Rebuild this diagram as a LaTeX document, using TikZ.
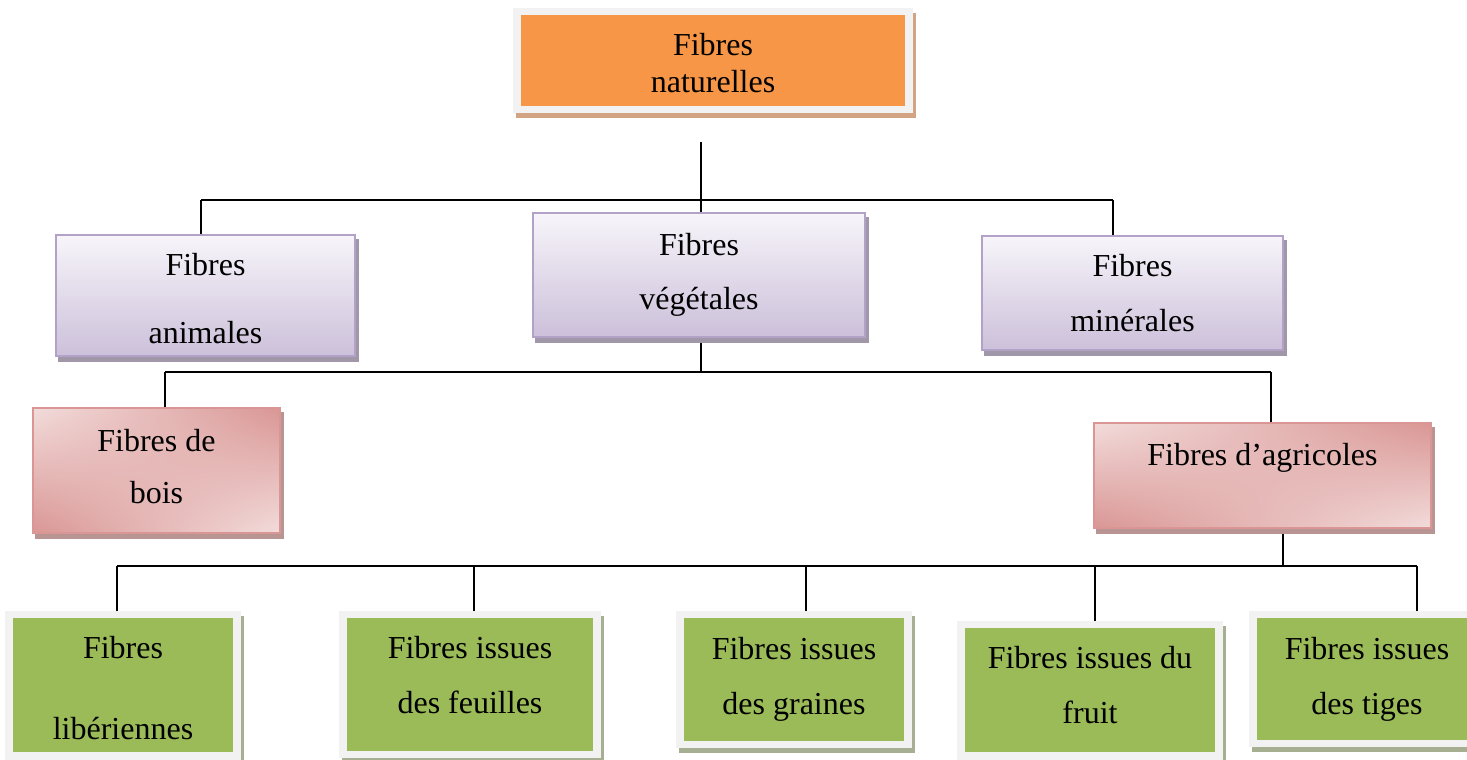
\documentclass[tikz,border=0pt]{standalone}
\usepackage{fontspec}
\setmainfont{Liberation Serif}
\usetikzlibrary{backgrounds,shadings}

\definecolor{orangefill}{HTML}{F79646}
\definecolor{orangeshadow}{HTML}{D2A483}
\definecolor{framegray}{HTML}{F2F2F2}
\definecolor{lilaline}{HTML}{B3A2C7}
\definecolor{lilatop}{HTML}{F7F5FA}
\definecolor{lilabottom}{HTML}{CCC0DA}
\definecolor{lilashadow}{HTML}{A098A8}
\definecolor{roseline}{HTML}{D99694}
\definecolor{roselight}{HTML}{F2DCDB}
\definecolor{rosedark}{HTML}{D99694}
\definecolor{roseshadow}{HTML}{B89493}
\definecolor{greenfill}{HTML}{9BBB59}
\definecolor{greenshadow}{HTML}{A7AF92}

\begin{document}
\begin{tikzpicture}[x=1pt,y=-1pt,
	every node/.style={align=center,inner sep=0pt,font=\fontsize{32}{55}\selectfont},
	lsp/.style={font=\fontsize{32}{#1}\selectfont},
	linie/.style={line width=1.5pt},
	orangebox/.style={draw=framegray,line width=7.5pt,fill=orangefill,
		preaction={draw=orangeshadow,fill=orangeshadow,line width=7.5pt,
			transform canvas={xshift=3pt,yshift=-5pt}}},
	greenbox/.style={draw=framegray,line width=7.5pt,fill=greenfill,
		preaction={draw=greenshadow,fill=greenshadow,line width=7.5pt,
			transform canvas={xshift=3pt,yshift=-5pt}}},
	lilabox/.style={draw=lilaline,line width=2pt,top color=lilatop,bottom color=lilabottom,
		preaction={draw=lilashadow,fill=lilashadow,line width=2pt,
			transform canvas={xshift=3pt,yshift=-5pt}}},
	rosebox/.style={draw=roseline,line width=2pt,
		upper left=roselight,upper right=rosedark,lower left=rosedark,lower right=roselight,
		preaction={draw=roseshadow,fill=roseshadow,line width=2pt,
			transform canvas={xshift=3pt,yshift=-5pt}}}
]
\def\oben#1{\rule{0pt}{#1}}
\def\unten#1{\rule[-#1]{0pt}{0pt}}
\useasboundingbox (0,0) rectangle (1467,760);

\node[orangebox,lsp=37,minimum width=392pt,minimum height=98pt]
	(nat) at (713,60.5) {\oben{28pt}Fibres\\naturelles};

\node[lilabox,lsp=68,minimum width=299pt,minimum height=121pt]
	(ani) at (205.5,295.5) {\oben{29pt}Fibres\\animales};
\node[lilabox,lsp=54,minimum width=332pt,minimum height=124pt]
	(veg) at (699,275) {Fibres\\végétales};
\node[lilabox,lsp=55,minimum width=301pt,minimum height=114pt]
	(mine) at (1132.5,293) {Fibres\\minérales};

\node[rosebox,lsp=52,minimum width=247pt,minimum height=125pt]
	(bois) at (156.5,470.5) {Fibres de\\bois\unten{8pt}};
\node[rosebox,minimum width=337pt,minimum height=105pt,text height=22pt,text depth=43pt]
	(agr) at (1262.5,475.5) {Fibres d’agricoles};

\node[greenbox,lsp=81,minimum width=228pt,minimum height=141.5pt]
	(lib) at (123,685.25) {\oben{28pt}Fibres\\libériennes};
\node[greenbox,minimum width=254pt,minimum height=140pt]
	(feu) at (470,684.5) {Fibres issues\\des feuilles\unten{19pt}};
\node[greenbox,minimum width=228pt,minimum height=130pt]
	(gra) at (794,679.5) {Fibres issues\\des graines};
\node[greenbox,minimum width=258pt,minimum height=131.5pt]
	(fru) at (1090,690.25) {Fibres issues du\\fruit\unten{10pt}};
\node[greenbox,minimum width=228pt,minimum height=129pt]
	(tig) at (1367,679) {Fibres issues\\des tiges};

\coordinate (k1) at (701,142);
\coordinate (k1m) at (701,200);
\coordinate (k1l) at (201,200);
\coordinate (k1r) at (1113,200);
\coordinate (k2m) at (701,372);
\coordinate (k2l) at (165,372);
\coordinate (k2r) at (1271,372);
\coordinate (k3m) at (1283,566);
\coordinate (k3l) at (117,566);
\coordinate (k3r) at (1417,566);

\begin{scope}[on background layer]
\draw[linie] (k1) -- (k1m);
\draw[linie] (k1l) -- (k1r);
\draw[linie] (k1l) -- (k1l |- ani.north);
\draw[linie] (k1m) -- (k1m |- veg.north);
\draw[linie] (k1r) -- (k1r |- mine.north);

\draw[linie] (k2m |- veg.south) -- (k2m);
\draw[linie] (k2l) -- (k2r);
\draw[linie] (k2l) -- (k2l |- bois.north);
\draw[linie] (k2r) -- (k2r |- agr.north);

\draw[linie] (k3m |- agr.south) -- (k3m);
\draw[linie] (k3l) -- (k3r);
\foreach \n/\x in {lib/117,feu/474,gra/806,fru/1095,tig/1417}{
	\coordinate (s\n) at (\x,566);
	\draw[linie] (s\n) -- (s\n |- \n.north);
}
\end{scope}

\end{tikzpicture}
\end{document}
